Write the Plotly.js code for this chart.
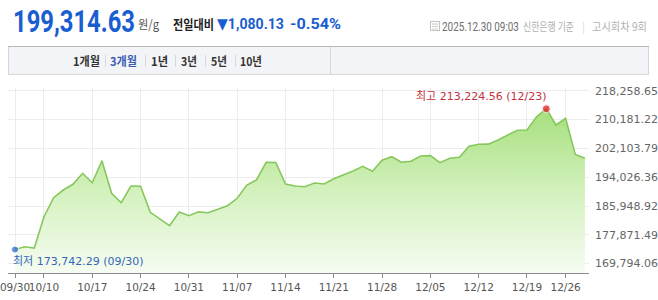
<!DOCTYPE html>
<html><head><meta charset="utf-8">
<script src="https://cdn.plot.ly/plotly-3.0.1.min.js"></script>
<style>
html,body{margin:0;padding:0;background:#fff;width:658px;height:300px;overflow:hidden}
#chart{position:absolute;left:0;top:0;width:658px;height:300px}
#hdr{position:absolute;left:0;top:0;z-index:5}
</style></head><body>
<div id="chart"></div>
<svg id="hdr" width="658" height="82" xmlns="http://www.w3.org/2000/svg"></svg>
<script>
// ---- data ----
const dates = ['09/30','10/01','10/02','10/10','10/13','10/14','10/15','10/16','10/17','10/20','10/21','10/22','10/23','10/24','10/27','10/28','10/29','10/30','10/31','11/03','11/04','11/05','11/06','11/07','11/10','11/11','11/12','11/13','11/14','11/17','11/18','11/19','11/20','11/21','11/24','11/25','11/26','11/27','11/28','12/01','12/02','12/03','12/04','12/05','12/08','12/09','12/10','12/11','12/12','12/15','12/16','12/17','12/18','12/19','12/22','12/23','12/24','12/26','12/29','12/30'];
const prices = [173742.29,174534,174168,182948,188277,190436,192035,195120,192483,198654,189510,186874,191558,191480,184182,182302,180423,184250,183228,184350,184070,185023,186032,188108,191838,193240,198205,198150,192119,191558,191362,192399,192119,193605,194643,195765,197083,195681,198766,199775,198205,198485,199972,200065,198093,199327,199607,202692,203254,203300,204460,205862,207180,207265,210994,213224.56,208666,210546,200394.76,199314.63];
const xTickLabels = ['09/30','10/10','10/17','10/24','10/31','11/07','11/14','11/21','11/28','12/05','12/12','12/19','12/26'];
const yTicks = [169794.06,177871.49,185948.92,194026.36,202103.79,210181.22,218258.65];
const tabLabels = ['1개월','3개월','1년','3년','5년','10년'];
const currentPrice = '199,314.63';
const priceUnit = '원/g';
const changeLabel = '전일대비';
const changeAbs = '▼1,080.13';
const changePct = '-0.54%';
const infoDate = '2025.12.30 09:03';
const infoBank = '신한은행 기준';
const infoRound = '고시회차 9회';

const fmt = v => v.toLocaleString('en-US',{minimumFractionDigits:2,maximumFractionDigits:2});

// ---- header (svg text, horizontally scaled to fit measured widths) ----
const hdr = document.getElementById('hdr');
const NS = 'http://www.w3.org/2000/svg';
function t(txt, x, y, o){
  const e = document.createElementNS(NS,'text');
  e.setAttribute('x',0); e.setAttribute('y',0);
  e.setAttribute('font-family', o.ff || "'Noto Sans CJK KR', Roboto, sans-serif");
  e.setAttribute('font-size', o.fs || 12);
  e.setAttribute('font-weight', o.fw || 400);
  e.setAttribute('fill', o.c || '#333');
  e.textContent = txt; hdr.appendChild(e);
  let sx = 1;
  if (o.w){ const len = e.getComputedTextLength(); if (len>0) sx = o.w/len; }
  e.setAttribute('transform','translate('+x+','+y+') scale('+sx.toFixed(4)+',1)');
  return e;
}
function r(x,y,w,h,fill,stroke){
  const e = document.createElementNS(NS,'rect');
  e.setAttribute('x',x); e.setAttribute('y',y); e.setAttribute('width',w); e.setAttribute('height',h);
  e.setAttribute('fill',fill||'none'); if(stroke){e.setAttribute('stroke',stroke);} hdr.appendChild(e); return e;
}
function l(x1,y1,x2,y2,c){
  const e = document.createElementNS(NS,'line');
  e.setAttribute('x1',x1);e.setAttribute('y1',y1);e.setAttribute('x2',x2);e.setAttribute('y2',y2);
  e.setAttribute('stroke',c); e.setAttribute('stroke-width',1); hdr.appendChild(e);
}
t(currentPrice, 13, 32, {ff:"Roboto, 'Noto Sans', sans-serif", fs:31, fw:700, c:'#1a5dd0', w:122});
t(priceUnit, 138, 29, {fs:12.5, c:'#555', w:21});
t(changeLabel, 173, 29, {fs:13, fw:700, c:'#222', w:41});
t(changeAbs, 217, 29, {ff:"Roboto, 'DejaVu Sans', sans-serif", fs:15, fw:700, c:'#1a5dd0', w:67});
t(changePct, 290, 29, {ff:"Roboto, 'DejaVu Sans', sans-serif", fs:15, fw:700, c:'#1a5dd0', w:51});
// small icon
r(430.5,21.5,9,9,'#fff','#c4c4c4'); l(432,24,438,24,'#c4c4c4'); l(432,26.5,438,26.5,'#d0d0d0'); l(432,29,438,29,'#d0d0d0');
t(infoDate, 442, 31, {ff:"Roboto, 'Noto Sans', sans-serif", fs:12, c:'#6f6f6f', w:77});
t(infoBank, 523, 31, {fs:11.5, c:'#b0b0b0', w:51});
t('|', 582, 31, {fs:11, c:'#d8d8d8'});
t(infoRound, 592, 31, {fs:11.5, c:'#b0b0b0', w:55});
// tab bar
r(8.5,46.5,640,28,'#f3f4f7','#d6d6d6');
l(8,46.5,649,46.5,'#b8b8b8');
l(330.5,47,330.5,74,'#d6d6d6');
const tabX = [73,110,151,181,211,240];
const tabW = [27,27,17,16,16,22];
tabLabels.forEach((s,i)=>{
  t(s, tabX[i], 66, {fs:12, fw:700, c: i===1 ? '#3a5db4' : '#333', w:tabW[i]});
});
[105,145,175,205,235].forEach(x=>l(x+0.5,55,x+0.5,67,'#d8d8d8'));

// ---- chart ----
let minIdx = 0, maxIdx = 0;
prices.forEach((v,i)=>{ if(v<prices[minIdx]) minIdx=i; if(v>prices[maxIdx]) maxIdx=i; });

const yLow = 167157, yHigh = 219044;
const traces = [
  {x:dates, y:prices, type:'scatter', mode:'lines', hoverinfo:'skip',
   line:{color:'#86c85c', width:1.6},
   fill:'tozeroy',
   fillgradient:{type:'vertical', start:yLow, stop:prices[maxIdx],
     colorscale:[[0,'#f6fcf2'],[0.5,'#d3f1bd'],[1,'#a6df7c']]}},
  {x:[dates[minIdx], dates[maxIdx]], y:[prices[minIdx], prices[maxIdx]], type:'scatter', mode:'markers',
   hoverinfo:'skip', marker:{size:[7,8], color:['#1f5fd1','#e8141c']}}
];

const layout = {
  width:658, height:300,
  margin:{l:8, r:69, t:88, b:27},
  paper_bgcolor:'#ffffff', plot_bgcolor:'#ffffff',
  showlegend:false,
  font:{family:"'DejaVu Sans', 'Noto Sans CJK KR', sans-serif", size:11, color:'#666'},
  xaxis:{type:'category', range:[-0.7246, 59.42], tickmode:'array', tickvals:xTickLabels, ticktext:xTickLabels,
    tickangle:0, showgrid:true, gridcolor:'#ececec', gridwidth:1, showline:true, linecolor:'#8c8c8c', linewidth:1,
    ticks:'outside', ticklen:4, tickcolor:'#8c8c8c', tickfont:{size:10.5, color:'#555'}, zeroline:false, fixedrange:true},
  yaxis:{side:'right', range:[yLow, yHigh], tickmode:'array', tickvals:yTicks, ticktext:yTicks.map(fmt),
    showgrid:true, gridcolor:'#ececec', zeroline:false, showline:false, ticks:'',
    tickfont:{size:11, color:'#666'}, ticklabelstandoff:5, ticklabeloverflow:'allow', fixedrange:true},
  annotations:[
    {x:dates[minIdx], y:prices[minIdx], xref:'x', yref:'y', text:'최저 '+fmt(prices[minIdx])+' ('+dates[minIdx]+')',
     showarrow:false, xanchor:'left', yanchor:'middle', xshift:-4, yshift:-12, font:{size:11, color:'#3467b8'}},
    {x:dates[maxIdx], y:prices[maxIdx], xref:'x', yref:'y', text:'최고 '+fmt(prices[maxIdx])+' ('+dates[maxIdx]+')',
     showarrow:false, xanchor:'right', yanchor:'middle', xshift:3, yshift:12, font:{size:11, color:'#c4323c'}}
  ]
};
Plotly.newPlot('chart', traces, layout, {staticPlot:true, displayModeBar:false});
</script>
</body></html>
